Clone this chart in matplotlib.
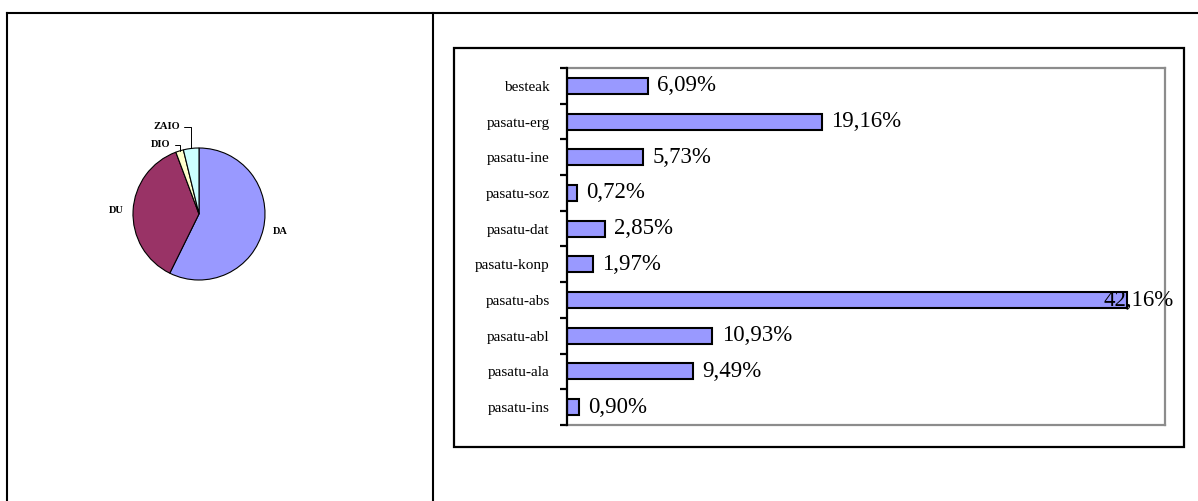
import numpy as np
import matplotlib
matplotlib.use('Agg')
import matplotlib.pyplot as plt
from matplotlib.lines import Line2D
from matplotlib.patches import Rectangle

plt.rcParams['font.family'] = ['Liberation Serif', 'DejaVu Serif']

# Dados do gráfico de pizza
pie_labels = ['DA', 'DU', 'DIO', 'ZAIO']
pie_values = [57.3, 37.0, 1.9, 3.8]
pie_colors = ['#9999FF', '#993366', '#FFFFCC', '#CCFFFF']

# Dados do gráfico de barras
categorias = ['besteak', 'pasatu-erg', 'pasatu-ine', 'pasatu-soz', 'pasatu-dat',
              'pasatu-konp', 'pasatu-abs', 'pasatu-abl', 'pasatu-ala', 'pasatu-ins']
valores = [6.09, 19.16, 5.73, 0.72, 2.85, 1.97, 42.16, 10.93, 9.49, 0.90]

W, H = 1198, 501
fig = plt.figure(figsize=(W / 100, H / 100), dpi=100)


def px_box(left, top, right, bottom):
    # converte pixels (origem no topo) para fração da figura
    return [left / W, 1 - bottom / H, (right - left) / W, (bottom - top) / H]


# Linhas da tabela
lw_tab = 1.5
fig.add_artist(Line2D([7 / W, 1], [1 - 13 / H, 1 - 13 / H], color='black', lw=lw_tab))
fig.add_artist(Line2D([7 / W, 7 / W], [0, 1 - 13 / H], color='black', lw=lw_tab))
fig.add_artist(Line2D([433 / W, 433 / W], [0, 1 - 13 / H], color='black', lw=lw_tab))

# Gráfico de pizza
axp = fig.add_axes(px_box(99, 114, 299, 314))
wedges, textos = axp.pie(pie_values, colors=pie_colors, startangle=90, counterclock=False,
                         labels=[pie_labels[0], pie_labels[1], '', ''], labeldistance=1.15,
                         wedgeprops=dict(edgecolor='black', linewidth=0.8),
                         textprops=dict(fontsize=7.5, fontweight='bold'))
axp.set_xlim(-1.515, 1.515)
axp.set_ylim(-1.515, 1.515)
axp.set_aspect('equal')
axp.axis('off')

# Rótulos com linha de chamada para as fatias pequenas
deslocamentos = {2: (-0.14, 0.09), 3: (-0.17, 0.33)}
for i, (dx, dy) in deslocamentos.items():
    w = wedges[i]
    ang = np.deg2rad((w.theta1 + w.theta2) / 2)
    px, py = np.cos(ang), np.sin(ang)
    axp.annotate(pie_labels[i], xy=(px, py), xytext=(px + dx, py + dy),
                 ha='right', va='center', fontsize=7.5, fontweight='bold',
                 arrowprops=dict(arrowstyle='-', color='black', lw=0.7,
                                 connectionstyle='angle,angleA=0,angleB=90,rad=0',
                                 shrinkA=1, shrinkB=0))

# Moldura do gráfico de barras
l, b, w_, h_ = px_box(454, 48, 1184, 447)
fig.add_artist(Rectangle((l, b), w_, h_, transform=fig.transFigure, fill=False,
                         edgecolor='black', lw=1.6))

# Gráfico de barras
ax = fig.add_axes(px_box(567, 68, 1165, 425))
y = np.arange(len(categorias))
ax.barh(y, valores, height=0.45, color='#9999FF', edgecolor='black', linewidth=1.5)
ax.set_xlim(0, 45)
ax.set_ylim(len(categorias) - 0.5, -0.5)

for s in ['top', 'right', 'bottom']:
    ax.spines[s].set_color('#8C8C8C')
    ax.spines[s].set_linewidth(1.6)
ax.spines['left'].set_color('black')
ax.spines['left'].set_linewidth(1.6)
ax.spines['left'].set_zorder(5)

ax.set_xticks([])
ax.set_yticks(y)
ax.set_yticklabels(categorias, fontsize=11)
ax.tick_params(axis='y', which='major', length=0, pad=12.5)
ax.set_yticks(np.arange(len(categorias) + 1) - 0.5, minor=True)
ax.tick_params(axis='y', which='minor', length=5, width=1.6, direction='out', color='black')

# Rótulos de valor (o maior fica deslocado para dentro, como no original)
for yi, v in zip(y, valores):
    xpos = min(v + 0.7, 40.4)
    ax.text(xpos, yi, f'{v:.2f}%'.replace('.', ','), va='center', ha='left', fontsize=16.5)

fig.savefig('out.png', dpi=100)
